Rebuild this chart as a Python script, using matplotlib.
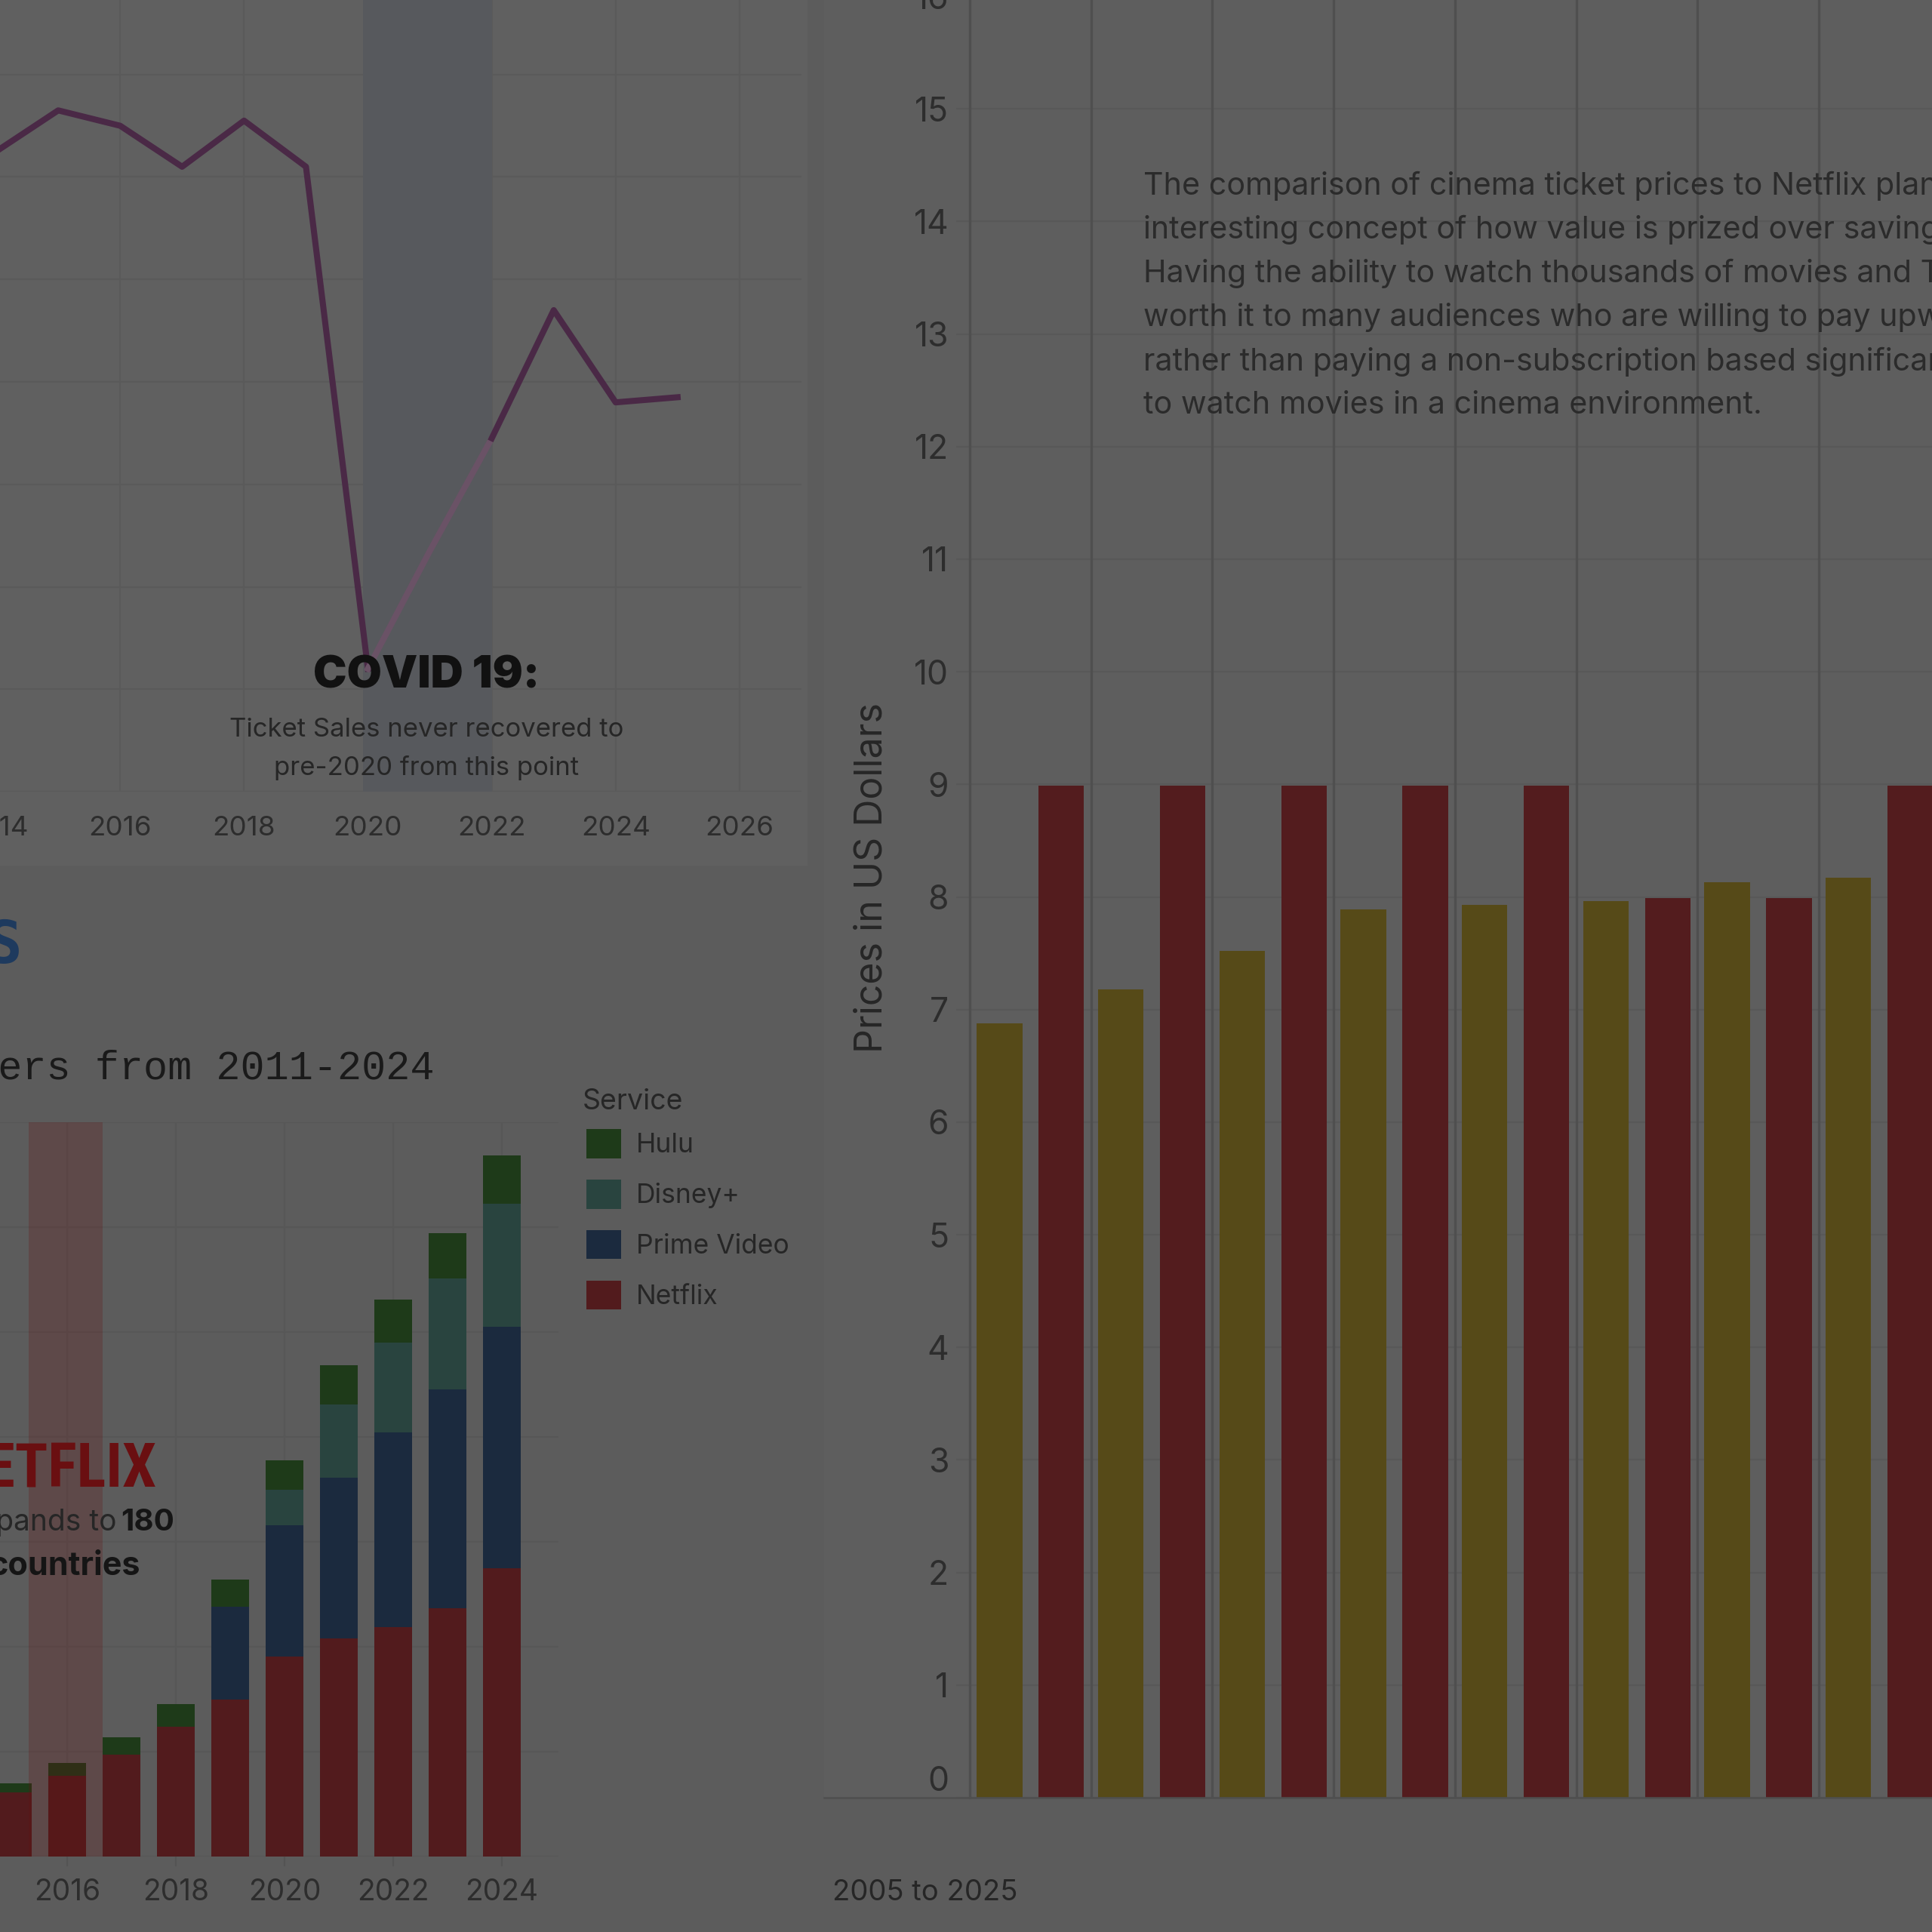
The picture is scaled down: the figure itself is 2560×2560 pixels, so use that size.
import numpy as np
import matplotlib
matplotlib.use('Agg')
import matplotlib.pyplot as plt
from matplotlib import font_manager
from matplotlib.lines import Line2D
from matplotlib.patches import Rectangle

# cinema ticket sales (billions), top-left line chart
sales_years = [2014, 2015, 2016, 2017, 2018, 2019, 2020, 2021, 2022, 2023, 2024, 2025]
sales = [1.25, 1.33, 1.30, 1.22, 1.31, 1.22, 0.24, 0.47, 0.69, 0.94, 0.76, 0.77]

# streaming subscribers, bottom-left stacked bars
sub_years = [2015, 2016, 2017, 2018, 2019, 2020, 2021, 2022, 2023, 2024]
netflix = [61, 77, 97, 124, 150, 191, 208, 219, 237, 275]
prime = [0, 0, 0, 0, 88, 125, 153, 185, 208, 230]
disney = [0, 0, 0, 0, 0, 34, 70, 86, 106, 117]
hulu = [9, 12, 17, 21, 26, 28, 37, 41, 43, 46]
services = ['Netflix', 'Prime Video', 'Disney+', 'Hulu']

# ticket price vs netflix plan, right bar chart
price_years = ['2007', '2008', '2009', '2010', '2011', '2012', '2013', '2014']
ticket_price = [6.88, 7.18, 7.52, 7.89, 7.93, 7.96, 8.13, 8.17]
netflix_price = [8.99, 8.99, 8.99, 8.99, 8.99, 7.99, 7.99, 8.99]

note_lines = [
    "The comparison of cinema ticket prices to Netflix plans offers an",
    "interesting concept of how value is prized over savings.",
    "Having the ability to watch thousands of movies and TV shows is",
    "worth it to many audiences who are willing to pay upwards",
    "rather than paying a non-subscription based significant amount",
    "to watch movies in a cinema environment.",
]

BG = '#5c5c5c'
TXT = '#262626'
W = 2560

plt.rcParams['font.family'] = ['Inter', 'DejaVu Sans']

# pick a narrow font for the logo text if one is installed
installed = {f.name for f in font_manager.fontManager.ttflist}
narrow = None
for cand in ['Liberation Sans Narrow', 'Roboto Condensed', 'Open Sans Condensed', 'DejaVu Sans Condensed']:
    if cand in installed:
        narrow = cand
        break
has_cond = any(f.name == 'DejaVu Sans' and f.stretch == 'condensed' for f in font_manager.fontManager.ttflist)
if narrow:
    logo_font, logo_size, logo_stretch = [narrow, 'DejaVu Sans'], 58, 'normal'
elif has_cond:
    logo_font, logo_size, logo_stretch = ['DejaVu Sans'], 52, 'condensed'
else:
    logo_font, logo_size, logo_stretch = ['DejaVu Sans'], 48, 'normal'


def fx(px):
    return px / W


def fy(py):
    return 1 - py / W


def box(left, top, right, bottom):
    return [fx(left), fy(bottom), (right - left) / W, (bottom - top) / W]


fig = plt.figure(figsize=(25.6, 25.6), dpi=100, facecolor=BG)

# panel backgrounds
fig.add_artist(Rectangle((0, fy(1147)), fx(1070), 1 - fy(1147), transform=fig.transFigure,
                         facecolor='#606060', edgecolor='none', zorder=0))
fig.add_artist(Rectangle((fx(1092), fy(2382)), 1 - fx(1092), 1 - fy(2382), transform=fig.transFigure,
                         facecolor='#5e5e5e', edgecolor='none', zorder=0))

# ---- line chart: ticket sales
ax1 = fig.add_axes(box(-87, -37, 1062, 1049))
ax1.set_facecolor('none')
ax1.set_xlim(2013, 2027)
ax1.set_ylim(0, 1.6)
ax1.set_xticks(range(2014, 2027, 2))
ax1.set_yticks(np.arange(0, 1.61, 0.2))
ax1.set_yticklabels([])
ax1.grid(True, color='#5a5a5a', linewidth=1.6)
ax1.set_axisbelow(True)
for s in ax1.spines.values():
    s.set_visible(False)
ax1.tick_params(axis='x', length=0, pad=23, labelsize=26.5, labelcolor='#2d2d2d')
ax1.tick_params(axis='y', length=0)
ax1.axvspan(2019.92, 2022, color='#57595d', zorder=1, linewidth=0)
i20 = sales_years.index(2020)
i22 = sales_years.index(2022)
ax1.plot(sales_years[:i20 + 1], sales[:i20 + 1], color='#4a2946', linewidth=5.8, zorder=3)
ax1.plot(sales_years[i20:i22 + 1], sales[i20:i22 + 1], color='#6a5266', linewidth=5.8, zorder=3)
ax1.plot(sales_years[i22:], sales[i22:], color='#4a2946', linewidth=5.8, zorder=3)

fig.text(fx(565), fy(896), 'COVID 19:', ha='center', va='center', fontsize=43,
         fontweight='black', color='#111111')
fig.text(fx(565), fy(967), 'Ticket Sales never recovered to', ha='center', va='center',
         fontsize=25, color=TXT)
fig.text(fx(565), fy(1017), 'pre-2020 from this point', ha='center', va='center',
         fontsize=25, color=TXT)

# ---- stacked bars: subscribers
ax2 = fig.add_axes(box(-307, 1487, 740, 2460))
ax2.set_facecolor('none')
ax2.set_xlim(2010.5, 2025.04)
ax2.set_ylim(0, 700)
ax2.set_xticks(range(2012, 2025, 2))
ax2.set_yticks(range(0, 701, 100))
ax2.set_yticklabels([])
ax2.grid(True, color='#575757', linewidth=1.6)
ax2.set_axisbelow(True)
for s in ax2.spines.values():
    s.set_visible(False)
ax2.tick_params(axis='x', length=9, width=1.5, color='#545454', pad=12, labelsize=28,
                labelcolor='#2d2d2d')
ax2.tick_params(axis='y', length=0)

colors = {'Netflix': '#521b1d', 'Prime Video': '#1b2a3e', 'Disney+': '#29443f', 'Hulu': '#1e3a19'}
stack = {'Netflix': netflix, 'Prime Video': prime, 'Disney+': disney, 'Hulu': hulu}
bottom = np.zeros(len(sub_years))
handles = {}
for name in services:
    vals = np.array(stack[name], dtype=float)
    handles[name] = ax2.bar(sub_years, vals, width=0.69, bottom=bottom, color=colors[name],
                            linewidth=0, zorder=2)
    bottom += vals
ax2.axvspan(2015.29, 2016.65, color='#651111', alpha=0.25, linewidth=0, zorder=3)

fig.text(fx(772), fy(1460), 'Service', ha='left', va='center', fontsize=27, color=TXT)
leg = ax2.legend([handles[n] for n in services[::-1]], services[::-1],
                 loc='upper left', bbox_to_anchor=(fx(777), fy(1496)), bbox_transform=fig.transFigure,
                 frameon=False, fontsize=25.5,
                 handlelength=1.3, handleheight=1.3, labelspacing=0.8, handletextpad=0.55,
                 borderpad=0, borderaxespad=0)
for t in leg.get_texts():
    t.set_color(TXT)

fig.text(fx(29), fy(1254), 'STREAMING SERVICES', ha='right', va='center', fontsize=56,
         family=['DejaVu Sans Mono'], fontweight='bold', color='#1e3a5e')
fig.text(fx(575), fy(1416), 'Streaming Service Subscribers from 2011-2024', ha='right', va='center',
         fontsize=38.5, family=['Liberation Mono', 'DejaVu Sans Mono'], color='#1a1a1a')
fig.text(fx(207), fy(1969), 'NETFLIX', ha='right', va='baseline', fontsize=logo_size,
         family=logo_font, fontstretch=logo_stretch, fontweight='bold', color='#6a0f11')
fig.text(fx(231), fy(2028), '180', ha='right', va='baseline', fontsize=29, fontweight='bold',
         color='#151515')
fig.text(fx(155), fy(2028), 'Netflix expands to', ha='right', va='baseline', fontsize=28, color=TXT)
fig.text(fx(186), fy(2087), 'countries', ha='right', va='baseline', fontsize=31, fontweight='bold',
         color='#151515')

# ---- right bars: prices
ax3 = fig.add_axes(box(1285, -5, 2560, 2382))
ax3.set_facecolor('none')
x = np.arange(len(price_years))
ax3.set_xlim(-0.5, -0.5 + 1275 / 160.7)
ax3.set_ylim(0, 16)
ax3.bar(x - 0.255, ticket_price, width=0.375, color='#564a18', linewidth=0, zorder=2)
ax3.bar(x + 0.255, netflix_price, width=0.375, color='#531c1e', linewidth=0, zorder=2)
ax3.set_yticks(range(0, 17))
ax3.set_xticks([])
ax3.grid(True, axis='y', color='#585858', linewidth=1.6)
for xv in x + 0.5:
    ax3.axvline(xv, color='#4f4f4f', linewidth=2.4, zorder=1)
ax3.set_axisbelow(True)
for side in ['top', 'right', 'bottom']:
    ax3.spines[side].set_visible(False)
ax3.spines['left'].set_color('#4f4f4f')
ax3.spines['left'].set_linewidth(2.4)
ax3.tick_params(axis='y', length=13, width=1.6, color='#585858', pad=7, labelsize=32,
                labelcolor='#2d2d2d')
ax3.yaxis.get_major_ticks()[0].label1.set_verticalalignment('bottom')

fig.add_artist(Line2D([fx(1092), 1], [fy(2382), fy(2382)], transform=fig.transFigure,
                      color='#4f4f4f', linewidth=1.8))

fig.text(fx(1155), fy(1163), 'Prices in US Dollars', rotation=90, ha='center', va='center',
         fontsize=36, color=TXT)
fig.text(fx(1103), fy(2508), '2005 to 2025', ha='left', va='center', fontsize=27.5, color=TXT)

for k, line in enumerate(note_lines):
    fig.text(fx(1515), fy(246 + 58.3 * k), line, ha='left', va='center', fontsize=29.7, color='#2b2b2b')

fig.savefig('out.png', dpi=100, facecolor=BG)
